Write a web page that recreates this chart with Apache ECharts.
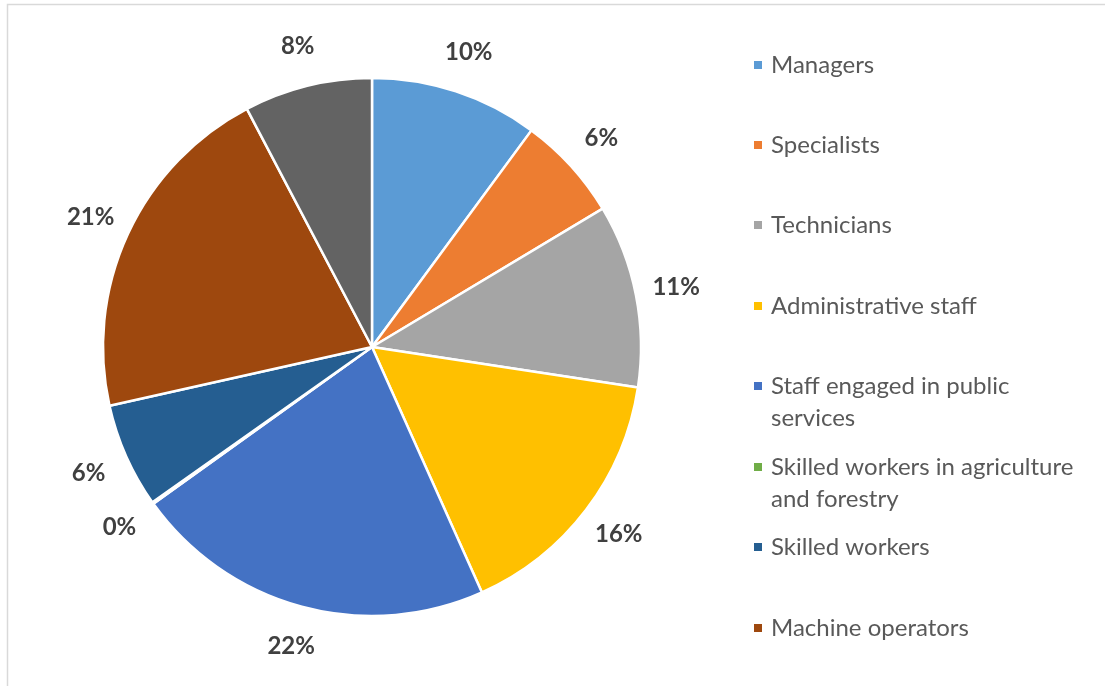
<!DOCTYPE html>
<html>
<head>
<meta charset="utf-8">
<script src="https://cdn.jsdelivr.net/npm/echarts@6/dist/echarts.min.js"></script>
<style>
  html, body { margin: 0; padding: 0; background: #ffffff; }
  #chart { width: 1105px; height: 686px; }
</style>
</head>
<body>
<div id="chart"></div>
<script>
// Occupational groups and their shares (%)
const categories = [
  'Managers',
  'Specialists',
  'Technicians',
  'Administrative staff',
  'Staff engaged in public services',
  'Skilled workers in agriculture and forestry',
  'Skilled workers',
  'Machine operators',
  'Elementary occupations'
];
const shares = [10.1, 6.3, 11.0, 15.9, 21.8, 0.1, 6.3, 20.8, 7.7];
const colors = ['#5B9BD5', '#ED7D31', '#A5A5A5', '#FFC000', '#4472C4',
                '#70AD47', '#255E91', '#9E480E', '#636363'];
// Wrapped legend text (first eight groups are listed)
const legendText = {
  'Staff engaged in public services': 'Staff engaged in public\nservices',
  'Skilled workers in agriculture and forestry': 'Skilled workers in agriculture\nand forestry'
};
const legendSlots = [65, 145, 225, 306, 386, 467, 547, 628];

const FONT = 'Lato, "Open Sans", sans-serif';
const LINE = 32;

const legends = legendSlots.map((y, i) => {
  const name = categories[i];
  const label = legendText[name] || name;
  const twoLines = label.indexOf('\n') >= 0;
  return {
    data: [name],
    orient: 'vertical',
    left: 752,
    // wrapped entries get a blank leading line so the marker sits on the first line
    top: twoLines ? y - 1.5 * LINE : y - LINE / 2,
    padding: 0,
    itemWidth: 10,
    itemHeight: 10,
    icon: 'rect',
    selectedMode: false,
    formatter: () => (twoLines ? ' \n' + label : label),
    textStyle: {
      fontFamily: FONT,
      fontSize: 24,
      color: '#595959',
      lineHeight: LINE,
      padding: [0, 0, 0, 3]
    }
  };
});

const pieData = categories.map((c, i) => ({ name: c, value: shares[i], itemStyle: { color: colors[i] } }));
const labelData = categories.map((c, i) => ({ name: c, value: shares[i] }));

const chart = echarts.init(document.getElementById('chart'), null, { renderer: 'canvas' });
chart.setOption({
  backgroundColor: '#ffffff',
  animation: false,
  graphic: [{
    type: 'rect',
    shape: { x: 7.5, y: 4.5, width: 1200, height: 800 },
    style: { fill: 'none', stroke: '#d9d9d9', lineWidth: 1.5 },
    silent: true
  }],
  legend: legends,
  series: [
    {
      type: 'pie',
      center: [372, 347],
      radius: [0, 269],
      startAngle: 90,
      clockwise: true,
      avoidLabelOverlap: false,
      itemStyle: { borderColor: '#ffffff', borderWidth: 2.5 },
      label: { show: false },
      labelLine: { show: false },
      emphasis: { disabled: true },
      data: pieData
    },
    {
      // transparent ring that carries the percentage labels just outside the pie
      type: 'pie',
      center: [372, 347],
      radius: [296, 318],
      startAngle: 90,
      clockwise: true,
      silent: true,
      avoidLabelOverlap: false,
      itemStyle: { color: 'rgba(0,0,0,0)', borderWidth: 0 },
      label: {
        show: true,
        position: 'inside',
        rotate: 0,
        fontFamily: FONT,
        fontWeight: 'bold',
        fontSize: 24,
        color: '#404040',
        formatter: p => Math.round(p.percent) + '%'
      },
      labelLine: { show: false },
      emphasis: { disabled: true },
      data: labelData
    }
  ]
});
</script>
</body>
</html>
